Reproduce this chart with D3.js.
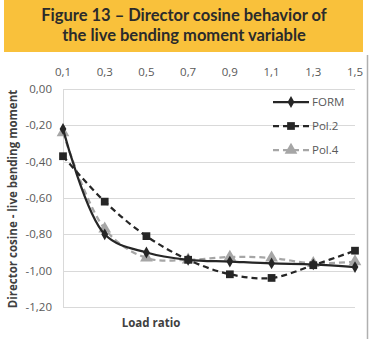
<!DOCTYPE html>
<html>
<head>
<meta charset="utf-8">
<script src="https://cdn.jsdelivr.net/npm/d3@7"></script>
<style>
  body { margin: 0; background: #fff; }
  svg { display: block; }
</style>
</head>
<body>
<svg id="chart" width="369" height="339"></svg>
<script>
// data
var loadRatio = [0.1, 0.3, 0.5, 0.7, 0.9, 1.1, 1.3, 1.5];
var formValues = [-0.22, -0.80, -0.90, -0.94, -0.95, -0.96, -0.965, -0.98];
var pol2Values = [-0.37, -0.62, -0.81, -0.94, -1.02, -1.04, -0.97, -0.89];
var pol4Values = [-0.24, -0.77, -0.93, -0.94, -0.925, -0.93, -0.96, -0.95];
var xTicks = [0.1, 0.3, 0.5, 0.7, 0.9, 1.1, 1.3, 1.5];
var yTicks = [0, -0.2, -0.4, -0.6, -0.8, -1.0, -1.2];
var seriesNames = ["FORM", "Pol.2", "Pol.4"];

var svg = d3.select("#chart");

// title banner
svg.append("rect")
    .attr("x", 4).attr("y", 0)
    .attr("width", 359).attr("height", 52)
    .style("fill", "#f9c13b");
svg.append("text")
    .attr("x", 184).attr("y", 21)
    .attr("text-anchor", "middle")
    .style("font-family", "Lato, 'DejaVu Sans', sans-serif")
    .style("font-weight", "bold")
    .style("font-size", "16.5px")
    .style("fill", "#2b2b2b")
    .text("Figure 13 \u2013 Director cosine behavior of");
svg.append("text")
    .attr("x", 184).attr("y", 41)
    .attr("text-anchor", "middle")
    .style("font-family", "Lato, 'DejaVu Sans', sans-serif")
    .style("font-weight", "bold")
    .style("font-size", "16.5px")
    .style("fill", "#2b2b2b")
    .text("the live bending moment variable");

// page edge on the right
svg.append("line")
    .attr("x1", 367.5).attr("x2", 367.5)
    .attr("y1", 55).attr("y2", 339)
    .style("stroke", "#b0b0b0")
    .style("stroke-width", 1.5);

var xScale = d3.scaleLinear().domain([0.1, 1.5]).range([63, 355]);
var yScale = d3.scaleLinear().domain([-1.2, 0]).range([307, 89]);

var tickFont = "'Open Sans', 'Liberation Sans', sans-serif";

// gridlines
svg.append("g").selectAll("line").data(yTicks).enter().append("line")
    .attr("x1", 63).attr("x2", 355)
    .attr("y1", function(d) { return Math.round(yScale(d)) + 0.5; })
    .attr("y2", function(d) { return Math.round(yScale(d)) + 0.5; })
    .style("stroke", "#d9d9d9")
    .style("stroke-width", 1);

// left axis line
svg.append("line")
    .attr("x1", 63.5).attr("x2", 63.5)
    .attr("y1", yScale(0)).attr("y2", yScale(-1.2))
    .style("stroke", "#d9d9d9");

// x tick labels (on top)
svg.append("g").selectAll("text").data(xTicks).enter().append("text")
    .attr("x", function(d) { return xScale(d); })
    .attr("y", 76)
    .attr("text-anchor", "middle")
    .style("font-family", tickFont)
    .style("font-size", "11.5px")
    .style("fill", "#595959")
    .text(function(d) { return d3.format(".1f")(d).replace(".", ","); });

// y tick labels
svg.append("g").selectAll("text").data(yTicks).enter().append("text")
    .attr("x", 52)
    .attr("y", function(d) { return yScale(d) + 4; })
    .attr("text-anchor", "end")
    .style("font-family", tickFont)
    .style("font-size", "11.5px")
    .style("fill", "#595959")
    .text(function(d) { return d3.format(".2f")(d).replace("\u2212", "-").replace(".", ","); });

// axis titles
svg.append("text")
    .attr("transform", "translate(17,199) rotate(-90)")
    .attr("text-anchor", "middle")
    .style("font-family", tickFont)
    .style("font-weight", "bold")
    .style("font-size", "11.5px")
    .style("fill", "#404040")
    .text("Director cosine - live bending moment");
svg.append("text")
    .attr("x", 151).attr("y", 327)
    .attr("text-anchor", "middle")
    .style("font-family", tickFont)
    .style("font-weight", "bold")
    .style("font-size", "11.5px")
    .style("fill", "#404040")
    .text("Load ratio");

var series = [
    { name: seriesNames[0], values: formValues, color: "#262626", dash: null, symbol: d3.symbolDiamond, size: 40 },
    { name: seriesNames[1], values: pol2Values, color: "#262626", dash: "6,4", symbol: d3.symbolSquare, size: 60 },
    { name: seriesNames[2], values: pol4Values, color: "#a6a6a6", dash: "6,4", symbol: d3.symbolTriangle, size: 70 }
];

var line = d3.line()
    .x(function(d) { return xScale(d[0]); })
    .y(function(d) { return yScale(d[1]); })
    .curve(d3.curveCatmullRom.alpha(0.5));

// draw Pol.4 first so dark lines sit on top
var order = [2, 1, 0];
order.forEach(function(k) {
    var s = series[k];
    var pts = loadRatio.map(function(x, i) { return [x, s.values[i]]; });
    svg.append("path")
        .attr("d", line(pts))
        .style("fill", "none")
        .style("stroke", s.color)
        .style("stroke-width", 2.25)
        .style("stroke-dasharray", s.dash);
    svg.append("g").selectAll("path").data(pts).enter().append("path")
        .attr("transform", function(d) { return "translate(" + xScale(d[0]) + "," + yScale(d[1]) + ")"; })
        .attr("d", d3.symbol().type(s.symbol).size(s.size))
        .style("fill", s.color);
});

// legend
var legendY = [102, 126, 150];
series.forEach(function(s, i) {
    var g = svg.append("g");
    g.append("line")
        .attr("x1", 273).attr("x2", 309)
        .attr("y1", legendY[i]).attr("y2", legendY[i])
        .style("stroke", s.color)
        .style("stroke-width", 2.25)
        .style("stroke-dasharray", s.dash);
    g.append("path")
        .attr("transform", "translate(291," + legendY[i] + ")")
        .attr("d", d3.symbol().type(s.symbol).size(s.size))
        .style("fill", s.color);
    g.append("text")
        .attr("x", 312).attr("y", legendY[i] + 4)
        .style("font-family", tickFont)
        .style("font-size", "11.5px")
        .style("fill", "#595959")
        .text(s.name);
});
</script>
</body>
</html>
